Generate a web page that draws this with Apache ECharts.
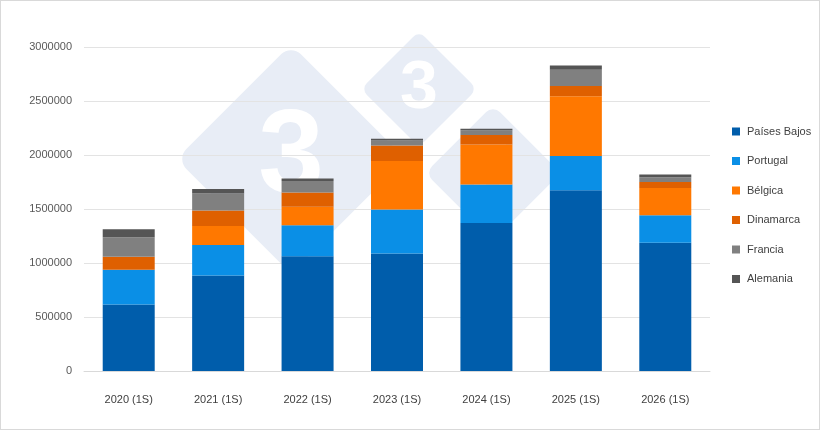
<!DOCTYPE html>
<html>
<head>
<meta charset="utf-8">
<script src="https://cdn.jsdelivr.net/npm/echarts@6/dist/echarts.min.js"></script>
<style>
  html, body { margin: 0; padding: 0; background: #fff; }
  #chart { width: 818px; height: 428px; border: 1px solid #d9d9d9; }
</style>
</head>
<body>
<div id="chart"></div>
<script>
// semestres
const categories = ['2020 (1S)', '2021 (1S)', '2022 (1S)', '2023 (1S)', '2024 (1S)', '2025 (1S)', '2026 (1S)'];

// valores por país
const paisesBajos = [615000, 884000, 1063000, 1087000, 1370000, 1674000, 1188000];
const portugal    = [322000, 283000, 286000, 409000, 356000, 316000, 255000];
const belgica     = [0, 175000, 171000, 448000, 371000, 553000, 251000];
const dinamarca   = [122000, 145000, 133000, 145000, 89000, 96000, 55000];
const francia     = [179000, 157000, 107000, 46000, 44000, 150000, 46000];
const alemania    = [74000, 42000, 22000, 15000, 14000, 40000, 25000];

const yTicks = [0, 500000, 1000000, 1500000, 2000000, 2500000, 3000000];

const chart = echarts.init(document.getElementById('chart'));

// marca de agua: rombos con un "3"
function rombo(cx, cy, side, r, fs) {
    return [{
        type: 'rect', x: cx, y: cy, rotation: Math.PI / 4, z: -10,
        shape: { x: -side / 2, y: -side / 2, width: side, height: side, r: r },
        style: { fill: '#e8edf6' }, silent: true
    }, {
        type: 'text', x: cx, y: cy, z: -9,
        style: {
            text: '3', fill: '#ffffff', fontSize: fs, fontWeight: 'bold',
            fontFamily: 'Liberation Sans', align: 'center', verticalAlign: 'middle'
        }, silent: true
    }];
}

function serie(name, data, color) {
    return {
        name: name, type: 'bar', stack: 'total', data: data,
        barWidth: 52, itemStyle: { color: color }
    };
}

chart.setOption({
    backgroundColor: '#fff',
    textStyle: { fontFamily: 'Liberation Sans' },
    animation: false,
    graphic: [].concat(
        rombo(290, 158, 162, 14, 118),
        rombo(418, 88, 82, 8, 68),
        rombo(492, 172, 96, 10, 78)
    ),
    grid: { left: 83, right: 109, top: 46, bottom: 58 },
    legend: {
        orient: 'vertical', right: 0, left: 726, top: 120,
        itemWidth: 8, itemHeight: 8, itemGap: 18.5,
        icon: 'rect',
        textStyle: { color: '#404040', fontSize: 11, padding: [0, 0, 0, 2] }
    },
    xAxis: {
        type: 'category', data: categories,
        axisLine: { lineStyle: { color: '#d9d9d9' } },
        axisTick: { show: false },
        axisLabel: { color: '#404040', fontSize: 11, margin: 23 }
    },
    yAxis: {
        type: 'value', min: yTicks[0], max: yTicks[yTicks.length - 1], interval: 500000,
        axisLine: { show: false }, axisTick: { show: false },
        splitLine: { lineStyle: { color: '#e3e3e3' } },
        axisLabel: { color: '#595959', fontSize: 11, margin: 12, formatter: v => String(v) }
    },
    series: [
        serie('Países Bajos', paisesBajos, '#005dab'),
        serie('Portugal', portugal, '#0a8fe6'),
        serie('Bélgica', belgica, '#ff7800'),
        serie('Dinamarca', dinamarca, '#df6000'),
        serie('Francia', francia, '#808080'),
        serie('Alemania', alemania, '#555555')
    ]
});
</script>
</body>
</html>
